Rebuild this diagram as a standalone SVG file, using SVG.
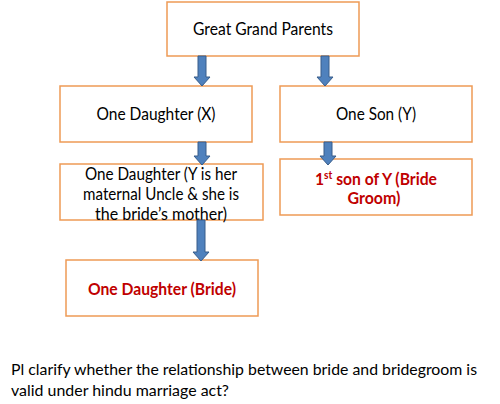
<svg xmlns="http://www.w3.org/2000/svg" width="500" height="404" viewBox="0 0 500 404">
<style>
.box{fill:#fff;stroke:#EE9A55;stroke-width:1.5}
.t{font-family:Lato,"Liberation Sans",sans-serif;font-size:17.5px;fill:#000;text-anchor:middle}
.r{font-family:Lato,"Liberation Sans",sans-serif;font-size:17px;font-weight:bold;fill:#C00000;text-anchor:middle}
.q{font-family:Lato,"Liberation Sans",sans-serif;font-size:16px;fill:#000}
.arr{fill:#4F81BD;stroke:#385D8A;stroke-width:1}
</style>
<rect width="500" height="404" fill="#fff"/>
<g id="n1"><rect class="box" x="167" y="2" width="192" height="54"/><text class="t" x="263" y="35" textLength="140" lengthAdjust="spacingAndGlyphs">Great Grand Parents</text></g>
<g id="n2"><rect class="box" x="60" y="86" width="192" height="56"/><text class="t" x="156" y="120" textLength="119" lengthAdjust="spacingAndGlyphs">One Daughter (X)</text></g>
<g id="n3"><rect class="box" x="280" y="86" width="192" height="56"/><text class="t" x="376" y="120" textLength="80" lengthAdjust="spacingAndGlyphs">One Son (Y)</text></g>
<g id="n4"><rect class="box" x="60" y="164" width="203" height="56"/>
<text class="t" x="161" y="180" textLength="152" lengthAdjust="spacingAndGlyphs">One Daughter (Y is her</text>
<text class="t" x="161" y="200" textLength="156" lengthAdjust="spacingAndGlyphs">maternal Uncle &amp; she is</text>
<text class="t" x="161" y="220" textLength="132" lengthAdjust="spacingAndGlyphs">the bride’s mother)</text></g>
<g id="n5"><rect class="box" x="280" y="159" width="192" height="56"/>
<text class="r" x="376" y="185" textLength="122" lengthAdjust="spacingAndGlyphs">1<tspan font-size="11" dy="-6">st</tspan><tspan dy="6"> son of Y (Bride</tspan></text>
<text class="r" x="374" y="204" textLength="53" lengthAdjust="spacingAndGlyphs">Groom)</text></g>
<g id="n6"><rect class="box" x="66" y="260" width="192" height="56"/><text class="r" x="162" y="295" textLength="148" lengthAdjust="spacingAndGlyphs">One Daughter (Bride)</text></g>
<g id="connectors">
<polygon class="arr" points="198,56 206,56 206,77 210,77 202,86 194,77 198,77"/>
<polygon class="arr" points="321,56 329,56 329,77 333,77 325,86 317,77 321,77"/>
<polygon class="arr" points="198,142 206,142 206,156 210,156 202,165 194,156 198,156"/>
<polygon class="arr" points="324,142 332,142 332,156 336,156 328,165 320,156 324,156"/>
<polygon class="arr" points="197,220 205,220 205,252 209,252 201,261 193,252 197,252"/>
</g>
<text class="q" x="11" y="375" textLength="466" lengthAdjust="spacingAndGlyphs">Pl clarify whether the relationship between bride and bridegroom is</text>
<text class="q" x="11" y="396" textLength="218" lengthAdjust="spacingAndGlyphs">valid under hindu marriage act?</text>
</svg>
